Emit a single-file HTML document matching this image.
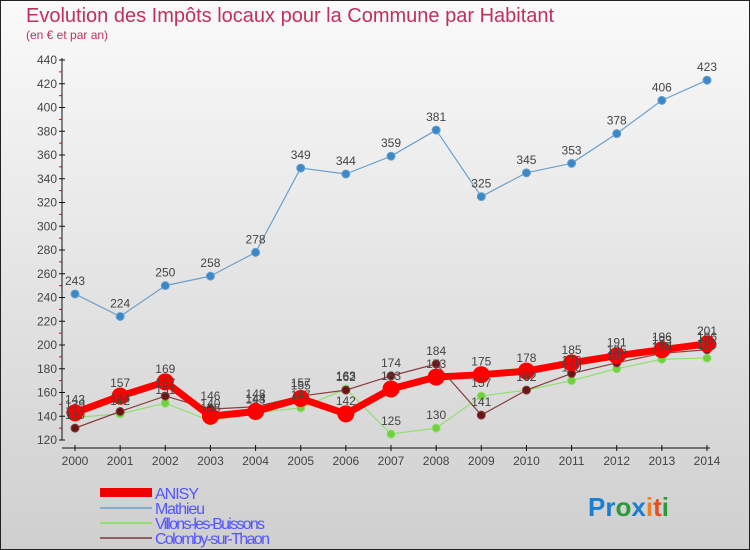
<!DOCTYPE html>
<html><head><meta charset="utf-8"><style>
body{margin:0}
svg{display:block;font-family:"Liberation Sans",sans-serif}
</style></head><body>
<svg id="c" width="750" height="550" xmlns="http://www.w3.org/2000/svg">
<defs><linearGradient id="bg" x1="0" y1="0" x2="0" y2="1"><stop offset="0" stop-color="#fafafa"/><stop offset="1" stop-color="#cfcfcf"/></linearGradient></defs>
<rect x="0.5" y="0.5" width="749" height="549" fill="url(#bg)" stroke="#222"/>
<text x="26" y="22" font-size="20" fill="#c0305a">Evolution des Impôts locaux pour la Commune par Habitant</text>
<text x="26" y="39" font-size="12" fill="#c0305a">(en € et par an)</text>
<g id="axes"></g><g id="series"></g><g id="labels"></g>
<g>
<rect x="100" y="488" width="52" height="9" fill="#e00"/>
<text x="155" y="499" font-size="16" fill="#55f" textLength="44">ANISY</text>
<line x1="100" y1="508" x2="152" y2="508" stroke="#80b0d0" stroke-width="2"/>
<text x="155" y="514" font-size="16" fill="#55f" textLength="50">Mathieu</text>
<line x1="100" y1="523" x2="152" y2="523" stroke="#90e070" stroke-width="2"/>
<text x="155" y="529" font-size="16" fill="#55f" textLength="110">Villons-les-Buissons</text>
<line x1="100" y1="538" x2="152" y2="538" stroke="#906060" stroke-width="2"/>
<text x="155" y="544" font-size="16" fill="#55f" textLength="115">Colomby-sur-Thaon</text>
</g>
<g font-size="26" font-weight="bold">
<text x="588" y="516"><tspan fill="#1a7fd0">Pr</tspan><tspan fill="#2a9a3a">o</tspan><tspan fill="#1a7fd0">x</tspan><tspan fill="#f08020">i</tspan><tspan fill="#e05020">t</tspan><tspan fill="#2a9a3a">i</tspan></text>
</g>
</svg>
<script>
const years=["2000","2001","2002","2003","2004","2005","2006","2007","2008","2009","2010","2011","2012","2013","2014"];
const yTicks=[120,140,160,180,200,220,240,260,280,300,320,340,360,380,400,420,440];
const anisy=[143,157,169,140,144,155,142,163,173,175,178,185,191,196,201];
const mathieu=[243,224,250,258,278,349,344,359,381,325,345,353,378,406,423];
const villons=[139,142,151,136,143,147,163,125,130,157,162,170,180,188,189];
const colomby=[130,144,157,146,148,157,162,174,184,141,162,176,185,193,196];
const NS="http://www.w3.org/2000/svg";
const X=i=>75+i*(707-75)/14;
const Y=v=>440-(v-120)*380/320;
function mk(t,a,p){const e=document.createElementNS(NS,t);for(const k in a)e.setAttribute(k,a[k]);p.appendChild(e);return e;}
const ax=document.getElementById('axes');
let e=mk('line',{x1:62,y1:58,x2:62,y2:440,stroke:'#111'},ax);


e=mk('line',{x1:62,y1:448,x2:710,y2:448,stroke:'#111'},ax);


yTicks.forEach((v,i)=>{const y=Y(v);
 mk('line',{x1:59,y1:y,x2:65,y2:y,stroke:'#111'},ax);
 if(i<yTicks.length-1)mk('line',{x1:59,y1:Y(v+10),x2:62,y2:Y(v+10),stroke:'#e00'},ax);
 const t=mk('text',{x:57,y:y+4,'font-size':12,fill:'#444','text-anchor':'end'},ax);t.textContent=v;
 
 });
years.forEach((yr,i)=>{const x=X(i);
 mk('line',{x1:x,y1:445,x2:x,y2:451,stroke:'#111'},ax);
 const t=mk('text',{x:x,y:465,'font-size':12,fill:'#444','text-anchor':'middle'},ax);t.textContent=yr;
 
 });
const sg=document.getElementById('series');
const lg=document.getElementById('labels');
function series(name,vals,col,w,r,dot,lab){
 const g=mk('g',{},sg);
 
 
 mk('polyline',{points:vals.map((v,i)=>X(i)+','+Y(v)).join(' '),fill:'none',stroke:col,'stroke-width':w,'stroke-linejoin':'round'},g);
 vals.forEach((v,i)=>{const c=mk('circle',{cx:X(i),cy:Y(v),r:r,fill:dot,stroke:col,'stroke-width':1},g);
  
  
  const t=mk('text',{x:X(i),y:Y(v)-9,'font-size':12,fill:lab,'text-anchor':'middle'},lg);t.textContent=v;
  
  });
}
series('villons',villons,'#90e070',1.2,4,'#70d040','#444');
series('colomby',colomby,'#8a4040',1.2,4,'#6a1515','#444');
series('anisy',anisy,'#f00',7,8,'#f00','#444');
series('mathieu',mathieu,'#6aa0cc',1.2,4,'#3a88c8','#444');
</script>
</body></html>
